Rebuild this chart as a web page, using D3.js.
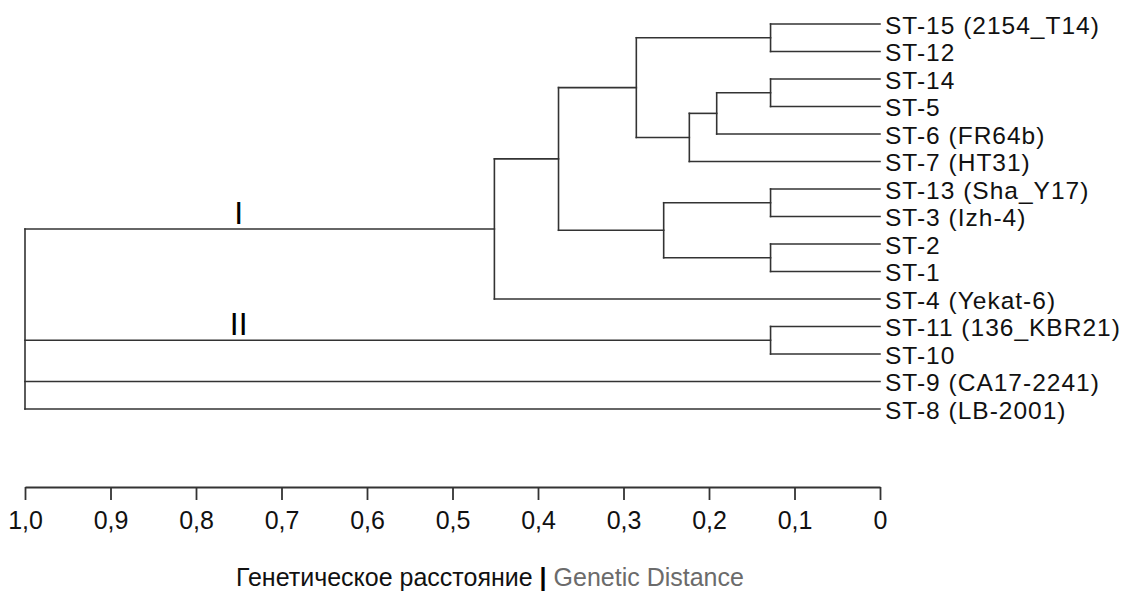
<!DOCTYPE html>
<html>
<head>
<meta charset="utf-8">
<script src="https://cdn.jsdelivr.net/npm/d3@7/dist/d3.min.js"></script>
<style>
	body { margin: 0; background: #fff; }
	svg { display: block; font-family: "Liberation Sans", Arial, sans-serif; }
</style>
</head>
<body>
<svg width="1132" height="591"></svg>
<script>
// leaves, top to bottom, and the node each one hangs from
var leaves = ['ST-15 (2154_T14)', 'ST-12', 'ST-14', 'ST-5', 'ST-6 (FR64b)', 'ST-7 (HT31)',
	'ST-13 (Sha_Y17)', 'ST-3 (Izh-4)', 'ST-2', 'ST-1', 'ST-4 (Yekat-6)',
	'ST-11 (136_KBR21)', 'ST-10', 'ST-9 (CA17-2241)', 'ST-8 (LB-2001)'];
var leafParents = ['n6', 'n6', 'n7', 'n7', 'n5', 'n4', 'n9', 'n9', 'n10', 'n10', 'I', 'II', 'II', 'root', 'root'];

// internal nodes: id, parent, distance
var nodes = ['root', 'I', 'n2', 'n3', 'n4', 'n5', 'n6', 'n7', 'n8', 'n9', 'n10', 'II'];
var nodeParents = ['', 'root', 'I', 'n2', 'n3', 'n4', 'n3', 'n5', 'n2', 'n8', 'n8', 'root'];
var nodeHeights = [1.0, 0.451, 0.376, 0.285, 0.223, 0.191, 0.128, 0.128, 0.253, 0.128, 0.128, 0.128];

var clusterNodes = ['I', 'II'];
var clusterLabelAt = 0.75;

var tickValues = [1, 0.9, 0.8, 0.7, 0.6, 0.5, 0.4, 0.3, 0.2, 0.1, 0];
var tickLabels = ['1,0', '0,9', '0,8', '0,7', '0,6', '0,5', '0,4', '0,3', '0,2', '0,1', '0'];
var titleRu = 'Генетическое расстояние';
var titleEn = 'Genetic Distance';

var svg = d3.select('svg');
var lineColor = '#333';

var x = d3.scaleLinear().domain([1, 0]).range([25, 880]);
var y = d3.scalePoint().domain(leaves).range([24, 409]);

var table = nodes.map(function (id, i) {
	return { id: id, parent: nodeParents[i] || null, h: nodeHeights[i] };
}).concat(leaves.map(function (id, i) {
	return { id: id, parent: leafParents[i], h: 0 };
}));

var root = d3.stratify()
	.id(function (d) { return d.id; })
	.parentId(function (d) { return d.parent; })(table);

// node y: leaves from the scale, inner nodes halfway between outer children
root.eachAfter(function (n) {
	if (!n.children) {
		n.y = y(n.id);
	} else {
		var ys = n.children.map(function (c) { return c.y; });
		n.y0 = d3.min(ys);
		n.y1 = d3.max(ys);
		n.y = (n.y0 + n.y1) / 2;
	}
});

var tree = svg.append('g')
	.attr('fill', 'none')
	.attr('stroke', lineColor)
	.attr('stroke-width', 1.6)
	.attr('stroke-linecap', 'square');

tree.selectAll('path.h')
	.data(root.descendants().filter(function (n) { return n.parent; }))
	.enter().append('path')
	.attr('class', 'h')
	.attr('d', function (n) {
		return 'M' + x(n.parent.data.h) + ',' + n.y + 'H' + x(n.data.h);
	});

tree.selectAll('path.v')
	.data(root.descendants().filter(function (n) { return n.children; }))
	.enter().append('path')
	.attr('class', 'v')
	.attr('d', function (n) {
		return 'M' + x(n.data.h) + ',' + n.y0 + 'V' + n.y1;
	});

svg.selectAll('text.leaf')
	.data(root.leaves())
	.enter().append('text')
	.attr('class', 'leaf')
	.attr('x', x(0) + 5)
	.attr('y', function (n) { return n.y; })
	.attr('dy', '0.4em')
	.style('font-size', '24.5px')
	.style('letter-spacing', '1px')
	.style('fill', '#111')
	.text(function (n) { return n.id; });

svg.selectAll('text.cluster')
	.data(root.descendants().filter(function (n) { return clusterNodes.indexOf(n.id) >= 0; }))
	.enter().append('text')
	.attr('class', 'cluster')
	.attr('x', x(clusterLabelAt))
	.attr('y', function (n) { return n.y - 5; })
	.attr('text-anchor', 'middle')
	.style('font-size', '32px')
	.style('fill', '#000')
	.text(function (n) { return n.id; });

var axis = d3.axisBottom(x)
	.tickValues(tickValues)
	.tickFormat(function (d, i) { return tickLabels[i]; })
	.tickSize(13)
	.tickSizeOuter(0)
	.tickPadding(11);

var ax = svg.append('g')
	.attr('transform', 'translate(0,487)')
	.call(axis);
ax.select('.domain').attr('stroke', lineColor).attr('stroke-width', 1.8);
ax.selectAll('.tick line').attr('stroke', lineColor).attr('stroke-width', 1.8);
ax.selectAll('.tick text')
	.style('font-family', '"Liberation Sans", Arial, sans-serif')
	.style('font-size', '25px')
	.style('fill', '#111');

var title = svg.append('text')
	.attr('x', 490)
	.attr('y', 586)
	.attr('text-anchor', 'middle')
	.style('font-size', '25px');
title.append('tspan').style('fill', '#111').text(titleRu + ' ');
title.append('tspan').style('fill', '#000').style('font-weight', 'bold').text('|');
title.append('tspan').style('fill', '#6b6b6b').text(' ' + titleEn);
</script>
</body>
</html>
